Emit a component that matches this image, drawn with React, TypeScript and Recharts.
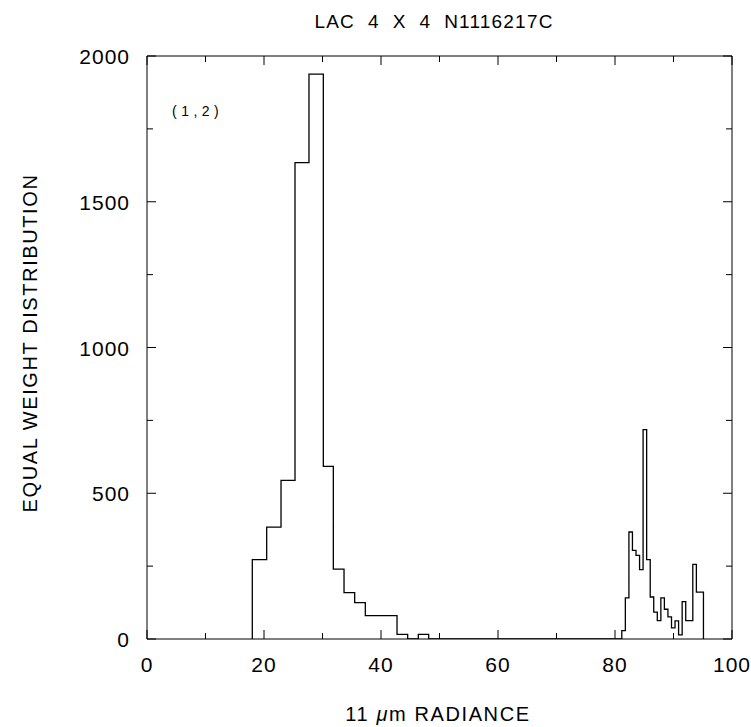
import React from 'react';
import { LineChart, Line, XAxis, YAxis } from 'recharts';

// Histogram bins (left edge of each bin, value of each bin)
const coldBinEdges = [18.0, 20.46, 22.91, 25.3, 27.69, 30.14, 31.85, 33.68, 35.5, 37.32, 42.74, 44.56, 46.38];
const coldBinCounts = [272, 384, 544, 1634, 1938, 592, 240, 159, 125, 80, 16, 0, 16];
const coldBinEnd = 48.15;

const warmBinEdges = [
  81.16, 81.77, 82.38, 82.98, 83.59, 84.2, 84.8, 85.41, 86.02, 86.62, 87.23, 87.84,
  88.44, 89.05, 89.66, 90.26, 90.87, 91.48, 92.09, 92.69, 93.3, 93.91, 94.51,
];
const warmBinCounts = [
  29, 141, 367, 304, 287, 238, 718, 272, 144, 92, 63, 141,
  102, 76, 38, 62, 14, 128, 63, 63, 256, 161, 161,
];
const warmBinEnd = 95.12;

const xTicks = [0, 10, 20, 30, 40, 50, 60, 70, 80, 90, 100];
const xLabeledTicks = [0, 20, 40, 60, 80, 100];
const yTicks = [0, 250, 500, 750, 1000, 1250, 1500, 1750, 2000];
const yLabeledTicks = [0, 500, 1000, 1500, 2000];

const titleText = 'LAC  4  X  4  N1116217C';
const yTitle = 'EQUAL WEIGHT DISTRIBUTION';
const panelTag = '(1,2)';

const data = [
  { x: coldBinEdges[0], y: 0 },
  ...coldBinEdges.map((e, i) => ({ x: e, y: coldBinCounts[i] })),
  { x: coldBinEnd, y: 0 },
  ...warmBinEdges.map((e, i) => ({ x: e, y: warmBinCounts[i] })),
  { x: warmBinEnd, y: 0 },
];

const FONT = '"Liberation Sans", Arial, sans-serif';
const MAJOR = 9;
const MINOR = 6;

const BottomTick = (p: any) => {
  const v = p.payload.value;
  const major = xLabeledTicks.includes(v);
  return (
    <g>
      <line x1={p.x} y1={p.y} x2={p.x} y2={p.y - (major ? MAJOR : MINOR)} stroke="#000" strokeWidth={1} />
      {major && (
        <text x={p.x} y={p.y + 33} textAnchor="middle" fontSize={21} fontFamily={FONT} fill="#000" letterSpacing={1}>
          {v}
        </text>
      )}
    </g>
  );
};

const TopTick = (p: any) => {
  const v = p.payload.value;
  const major = xLabeledTicks.includes(v);
  return <line x1={p.x} y1={p.y} x2={p.x} y2={p.y + (major ? MAJOR : MINOR)} stroke="#000" strokeWidth={1} />;
};

const LeftTick = (p: any) => {
  const v = p.payload.value;
  const major = yLabeledTicks.includes(v);
  return (
    <g>
      <line x1={p.x} y1={p.y} x2={p.x + (major ? MAJOR : MINOR)} y2={p.y} stroke="#000" strokeWidth={1} />
      {major && (
        <text x={p.x - 17} y={p.y + 8} textAnchor="end" fontSize={21} fontFamily={FONT} fill="#000" letterSpacing={1}>
          {v}
        </text>
      )}
    </g>
  );
};

const RightTick = (p: any) => {
  const v = p.payload.value;
  const major = yLabeledTicks.includes(v);
  return <line x1={p.x} y1={p.y} x2={p.x - (major ? MAJOR : MINOR)} y2={p.y} stroke="#000" strokeWidth={1} />;
};

export default function App() {
  const W = 751;
  const H = 727;
  return (
    <div style={{ position: 'absolute', left: 0, top: 0, width: W, height: H, background: '#fff' }}>
      <LineChart width={W} height={H} data={data} margin={{ top: 46, right: 9, bottom: 58, left: 87 }}>
        <XAxis
          xAxisId="b"
          dataKey="x"
          type="number"
          domain={[0, 100]}
          allowDataOverflow
          ticks={xTicks}
          interval={0}
          height={30}
          tickSize={0}
          tickMargin={0}
          tickLine={false}
          tick={<BottomTick />}
          axisLine={{ stroke: '#000', strokeWidth: 1 }}
        />
        <XAxis
          xAxisId="t"
          orientation="top"
          dataKey="x"
          type="number"
          domain={[0, 100]}
          allowDataOverflow
          ticks={xTicks}
          interval={0}
          height={10}
          tickSize={0}
          tickMargin={0}
          tickLine={false}
          tick={<TopTick />}
          axisLine={{ stroke: '#000', strokeWidth: 1 }}
        />
        <YAxis
          yAxisId="l"
          type="number"
          domain={[0, 2000]}
          allowDataOverflow
          ticks={yTicks}
          interval={0}
          width={60}
          tickSize={0}
          tickMargin={0}
          tickLine={false}
          tick={<LeftTick />}
          axisLine={{ stroke: '#000', strokeWidth: 1 }}
        />
        <YAxis
          yAxisId="r"
          orientation="right"
          type="number"
          domain={[0, 2000]}
          allowDataOverflow
          ticks={yTicks}
          interval={0}
          width={10}
          tickSize={0}
          tickMargin={0}
          tickLine={false}
          tick={<RightTick />}
          axisLine={{ stroke: '#000', strokeWidth: 1 }}
        />
        <Line
          xAxisId="b"
          yAxisId="l"
          dataKey="y"
          type="stepAfter"
          stroke="#000"
          strokeWidth={1.3}
          dot={false}
          activeDot={false}
          isAnimationActive={false}
        />
      </LineChart>
      <svg width={W} height={H} style={{ position: 'absolute', left: 0, top: 0, pointerEvents: 'none' }}>
        <text x={434} y={28} textAnchor="middle" fontSize={19} fontFamily={FONT} fill="#000" letterSpacing={1.2} style={{ whiteSpace: 'pre' }}>
          {titleText}
        </text>
        <text x={172} y={116} fontSize={14} fontFamily={FONT} fill="#000" letterSpacing={4.5}>
          {panelTag}
        </text>
        <text
          x={0}
          y={0}
          transform="translate(37, 343) rotate(-90)"
          textAnchor="middle"
          fontSize={20}
          fontFamily={FONT}
          fill="#000"
          letterSpacing={1.6}
        >
          {yTitle}
        </text>
        <text x={438} y={721} textAnchor="middle" fontSize={20} fontFamily={FONT} fill="#000" letterSpacing={1.6} style={{ whiteSpace: 'pre' }}>
          <tspan>11 </tspan>
          <tspan fontStyle="italic">μ</tspan>
          <tspan>m RADIANCE</tspan>
        </text>
      </svg>
    </div>
  );
}
